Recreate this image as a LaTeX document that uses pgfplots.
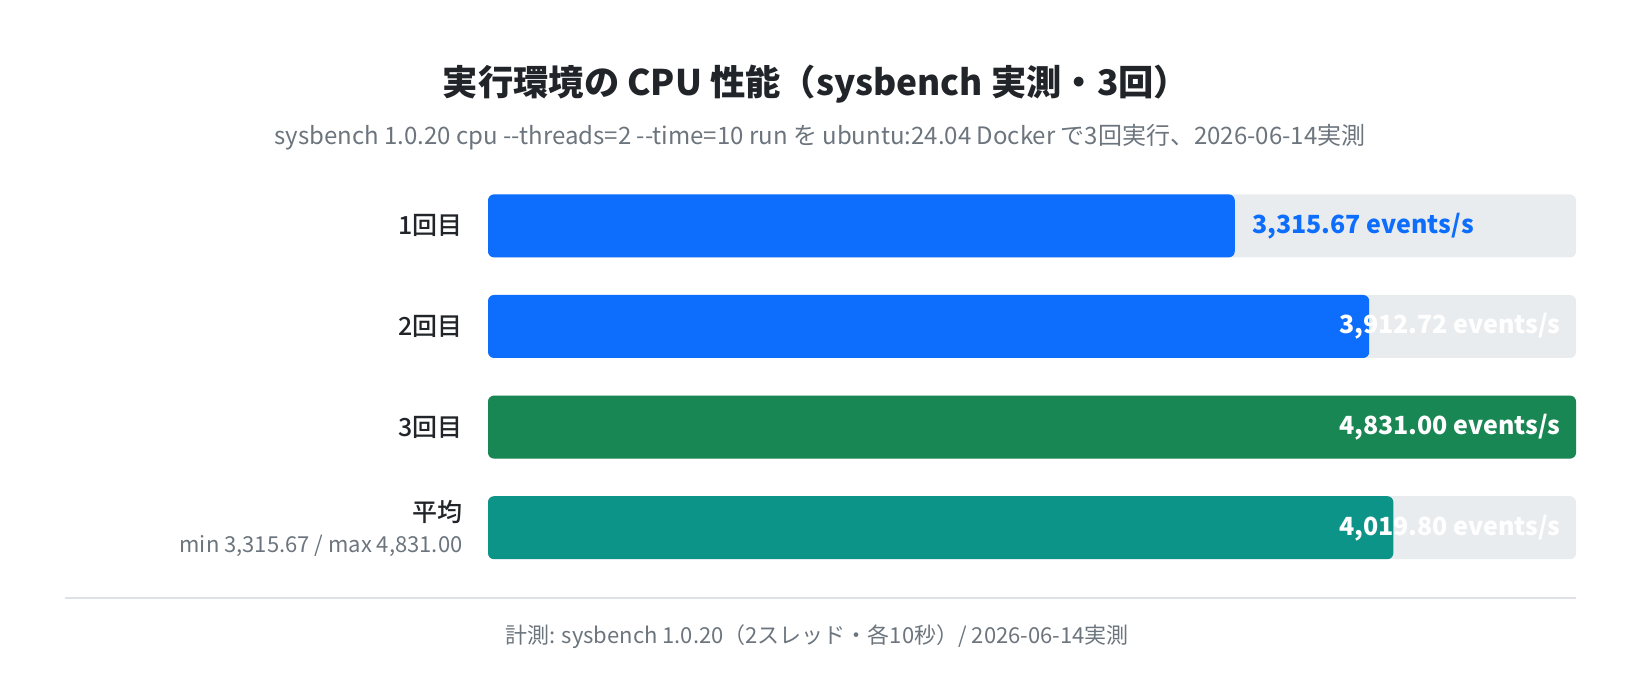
\documentclass[border=0pt]{standalone}
\usepackage{fontspec}
\setmainfont{Noto Sans CJK JP}
\newfontfamily\jpmed{Noto Sans CJK JP Medium}
\usepackage{pgfplots}
\pgfplotsset{compat=1.18}
\definecolor{textdark}{HTML}{212529}
\definecolor{textgrey}{HTML}{6C757D}
\definecolor{track}{HTML}{E9ECEF}
\definecolor{sepline}{HTML}{DEE2E6}
\definecolor{cblue}{HTML}{0D6EFD}
\definecolor{cgreen}{HTML}{198754}
\definecolor{cteal}{HTML}{0D9488}
\begin{document}
\begin{tikzpicture}[x=1bp,y=1bp]
\path (0,0) rectangle (1640,692);
\node[font=\fontsize{35.3bp}{41bp}\selectfont\bfseries, text=textdark] at (816,608) {実行環境の CPU 性能（sysbench 実測・3回）};
\node[font=\fontsize{24bp}{28bp}\selectfont, text=textgrey] at (820,555) {sysbench 1.0.20 cpu -\kern0pt-threads=2 -\kern0pt-time=10 run を ubuntu:24.04 Docker で3回実行、2026-06-14実測};
\draw[sepline, line width=2bp] (65,94) -- (1576,94);
\node[font=\fontsize{22bp}{26bp}\selectfont, text=textgrey] at (817,55) {計測: sysbench 1.0.20（2スレッド・各10秒）/ 2026-06-14実測};
\begin{axis}[
  at={(488bp,516.4bp)}, anchor=north west,
  scale only axis, width=1088bp, height=402.4bp,
  xmin=0, xmax=4831, ymin=0.5, ymax=4.5, y dir=reverse,
  hide axis, clip=false,
  xbar, bar width=63bp, bar shift=0pt,
]
\addplot[fill=track, draw=none, rounded corners=6bp] coordinates {(4831,1) (4831,2) (4831,3) (4831,4)};
\addplot[fill=cblue, draw=none, rounded corners=6bp] coordinates {(3315.67,1) (3912.72,2)};
\addplot[fill=cgreen, draw=none, rounded corners=6bp] coordinates {(4831,3)};
\addplot[fill=cteal, draw=none, rounded corners=6bp] coordinates {(4019.80,4)};
\begin{scope}[font=\fontsize{25bp}{29bp}\selectfont\bfseries]
\node[anchor=west, xshift=14bp, text=cblue] at (axis cs:3315.67,1) {3,315.67 events/s};
\node[anchor=east, xshift=-12bp, text=white] at (axis cs:4831,2) {3,912.72 events/s};
\node[anchor=east, xshift=-12bp, text=white] at (axis cs:4831,3) {4,831.00 events/s};
\node[anchor=east, xshift=-12bp, text=white] at (axis cs:4831,4) {4,019.80 events/s};
\end{scope}
\begin{scope}[font=\fontsize{25bp}{29bp}\selectfont\jpmed]
\node[anchor=east, xshift=-22bp, text=textdark] at (axis cs:0,1) {1回目};
\node[anchor=east, xshift=-22bp, text=textdark] at (axis cs:0,2) {2回目};
\node[anchor=east, xshift=-22bp, text=textdark] at (axis cs:0,3) {3回目};
\node[anchor=east, xshift=-22bp, yshift=15.7bp, text=textdark] at (axis cs:0,4) {平均};
\end{scope}
\node[anchor=east, xshift=-22bp, yshift=-18bp, text=textgrey, font=\fontsize{22bp}{26bp}\selectfont] at (axis cs:0,4) {min 3,315.67 / max 4,831.00};
\end{axis}
\end{tikzpicture}
\end{document}
